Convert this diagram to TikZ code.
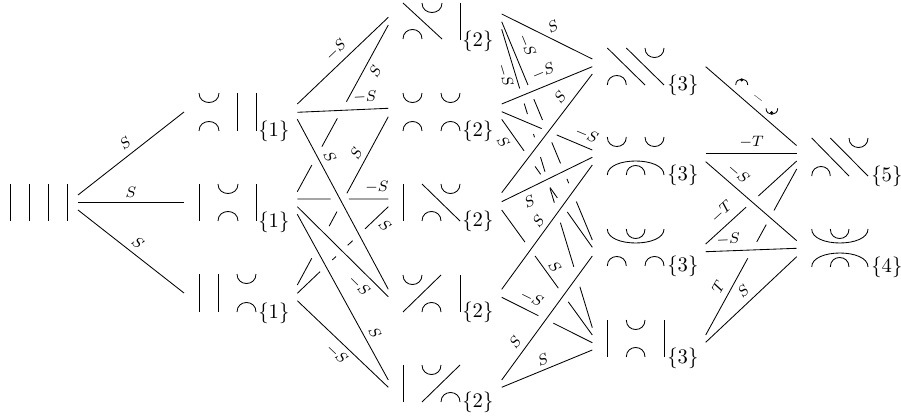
\documentclass[tikz,border=0pt]{standalone}
\usetikzlibrary{calc}
\tikzset{
  edge/.style={line width=0.45pt,black},
  strand/.style={line width=0.45pt,black},
  elab/.style={inner sep=0pt,font=\fontsize{8.2}{10}\selectfont},
  tag/.style={inner sep=0pt,anchor=west,font=\fontsize{10.5}{12}\selectfont}
}
% connector between two named coordinates
\newcommand{\conn}[3]{\coordinate (#1s) at (#2); \coordinate (#1t) at (#3); \draw[edge] (#1s) -- (#1t);}
% connector broken by crossings: list of from/to fractions
\newcommand{\brk}[4]{\coordinate (#1s) at (#2); \coordinate (#1t) at (#3);
  \foreach \fa/\fb in {#4} {\draw[edge] ($(#1s)!\fa!(#1t)$) -- ($(#1s)!\fb!(#1t)$);}}
\newcommand{\lb}[4]{\node[elab,rotate=#3] (l#1) at (#2) {$#4$};}
\newcommand{\vs}[3]{\draw[strand] (#1,#2) -- (#1,#3);}
\newcommand{\ds}[4]{\draw[strand] (#1,#2) -- (#3,#4);}
% cup hanging from y, cap standing on y
\newcommand{\ucup}[4][9.5]{\draw[strand] (#2,#4) .. controls (#2,{#4+#1*1.333}) and (#3,{#4+#1*1.333}) .. (#3,#4);}
\newcommand{\ucap}[4][9.5]{\draw[strand] (#2,#4) .. controls (#2,{#4-#1*1.333}) and (#3,{#4-#1*1.333}) .. (#3,#4);}
\newcommand{\tg}[4]{\node[tag] (#1) at (#2,#3) {$\{#4\}$};}
\begin{document}
\begin{tikzpicture}[x=0.53pt,y=-0.53pt]
\useasboundingbox (0,0) rectangle (901,418);
% column 0
\vs{10}{184}{221}\vs{29}{184}{221}\vs{48}{184}{221}\vs{67}{184}{221}
% column 1
\ucup{199}{219}{93}\ucap{199}{219}{131}\vs{237}{93}{131}\vs{256}{93}{131}\tg{da}{258}{131}{1}
\vs{199}{184}{221}\ucup{218}{238}{184}\ucap{218}{238}{221}\vs{256}{184}{221}\tg{db}{258}{222}{1}
\vs{199}{274}{312}\vs{218}{274}{312}\ucup{237}{256}{274}\ucap{237}{256}{312}\tg{dc}{258}{313}{1}
% column 2
\ds{403}{3}{442}{39}\ucup{422}{442}{3}\ucap{403}{422}{39}\vs{460}{3}{40}\tg{ea}{462}{41}{2}
\ucup{403}{422}{93}\ucup{441}{460}{93}\ucap{403}{422}{131}\ucap{441}{460}{131}\tg{eb}{462}{131}{2}
\vs{403}{184}{221}\ds{422}{184}{460}{221}\ucup{441}{460}{184}\ucap{422}{441}{221}\tg{ec}{462}{221}{2}
\ucup{403}{422}{275}\ds{441}{275}{403}{312}\ucap{422}{441}{312}\vs{460}{275}{312}\tg{ed}{462}{312}{2}
\vs{403}{365}{402}\ucup{422}{441}{365}\ds{460}{365}{422}{402}\ucap{441}{460}{402}\tg{ee}{462}{402}{2}
% column 3
\ds{607.3}{48}{645}{85}\ds{626.3}{48}{664}{85}\ucup{645}{664}{48}\ucap{607.3}{626.3}{85}\tg{fa}{667}{85}{3}
\ucup{607.3}{626.3}{137}\ucup{645}{664}{137}\ucap[14]{607.3}{664}{175}\ucap{626.3}{645}{175}\tg{fb}{667}{175}{3}
\ucup[14]{607.3}{664}{229}\ucup{626.3}{645}{229}\ucap{607.3}{626.3}{266}\ucap{645}{664}{266}\tg{fc}{667}{266}{3}
\vs{607.3}{320}{357}\ucup{626.3}{645}{320}\ucap{626.3}{645}{357}\vs{664}{320}{357}\tg{fd}{667}{358}{3}
% column 4
\ds{811.7}{138}{849}{176}\ds{830.3}{138}{868}{176}\ucup{849}{868}{138}\ucap{811.7}{830.3}{176}\tg{ga}{871}{176}{5}
\ucup[14]{811.7}{868}{229}\ucup{830.3}{849}{229}\ucap[14]{811.7}{868}{267}\ucap{830.3}{849}{267}\tg{gb}{871}{267}{4}
% connectors column 0 -> 1
\conn{aa}{78,195}{184,112}\lb{aa}{125,143}{38}{S}
\conn{ab}{78,202}{184,202}\lb{ab}{131,192}{0}{S}
\conn{ac}{78,210}{184,293}\lb{ac}{138,243}{-38}{S}
% connectors column 1 -> 2
\conn{b1}{297.3,104}{388.3,17.3}\lb{b1}{336,50}{43.6}{-S}
\brk{b2}{297.3,191.7}{388.3,25}{0/.16,.27/.44,.54/1}\lb{b2}{375,71}{61.4}{S}
\conn{b3}{297.3,112.3}{388.3,108.3}\lb{b3}{365,96.7}{2.5}{-S}
\conn{b4}{297.3,119.3}{388.3,289.3}\lb{b4}{330,157}{-61.8}{S}
\brk{b5}{297.3,285}{388.3,116.7}{0/.159,.35/.436,.545/1}\lb{b5}{356,153}{61.6}{S}
\brk{b6}{297.3,199}{388.3,199}{0/.367,.568/1}\lb{b6}{377,187}{0}{-S}
\conn{b7}{297.3,206.7}{388.3,296.7}\lb{b7}{359,286}{-44.7}{-S}
\conn{b8}{297.3,214.3}{388.3,380}\lb{b8}{375,333}{-61.2}{S}
\brk{b9}{297.3,293.3}{388.3,206.7}{0/.25,.385/.425,.554/.607,.744/1}\lb{b9}{385,225}{-43.6}{S}
\conn{b10}{297.3,300.7}{388.3,387.3}\lb{b10}{336.7,354}{-43.6}{-S}
% connectors column 2 -> 3
\conn{ca}{501.7,14}{592.3,59}\lb{ca}{552.7,26.7}{26.4}{S}
\brk{cb}{501.7,21.7}{592.3,240}{0/.29,.355/.45,.553/.649,.72/.74,.824/1}\lb{cb}{526.7,45}{-67.5}{-S}
\brk{cc}{501.7,29.3}{592.3,327.7}{0/.198,.249/.284,.351/.362,.428/.477,.533/.581,.648/.796,.863/1}\lb{cc}{505,75}{-73.1}{-S}
\conn{cd}{501.7,104}{592.3,66.7}\lb{cd}{543.3,72.3}{22.4}{-S}
\brk{ce}{501.7,111.7}{592.3,150}{0/.441,.607/1}\lb{ce}{586.7,135}{-22.9}{-S}
\brk{cf}{501.7,119.3}{592.3,247.3}{0/.246,.368/.43,.533/.614,.724/1}\lb{cf}{503.3,141.7}{-54.7}{S}
\conn{cg}{501.7,192.7}{592.3,74}\lb{cg}{560,96.7}{52.6}{S}
\conn{ch}{501.7,201.7}{592.3,157.3}\lb{ch}{529.3,201.7}{26.1}{S}
\conn{ci}{501.7,289.3}{592.3,165}\lb{ci}{538.3,220.7}{53.9}{S}
\brk{cj}{501.7,297.3}{592.3,342.7}{0/.404,.57/1}\lb{cj}{531.7,298.3}{-26.6}{-S}
\brk{ck}{501.7,210}{592.3,335}{0/.257,.368/.625,.735/1}\lb{ck}{555,266.7}{-54.1}{S}
\conn{cl}{501.7,380}{592.3,256}\lb{cl}{515,341.7}{53.8}{S}
\conn{cm}{501.7,387.3}{592.3,350}\lb{cm}{542.7,359.3}{22.4}{S}
% connectors column 3 -> 4
\conn{dn}{705.7,66.7}{796.5,145.5}
\draw[strand] (735.7,85) .. controls (735.7,77) and (747.7,77) .. (747.7,85);
\fill (741.7,80) circle[radius=1.7];
\draw[line width=0.3pt,black!60] (754.3,95) -- (761.7,100.7);
\draw[strand] (766,108.3) .. controls (766,116.3) and (777.7,116.3) .. (777.7,108.3);
\fill (771.7,112.7) circle[radius=1.7];
\conn{do}{705.7,153.3}{796.7,153.3}\lb{do}{751.7,141.7}{0}{-T}
\conn{dp}{705.7,161.7}{796.7,240.7}\lb{dp}{738.3,173.3}{-41}{-S}
\brk{dq}{705.7,244}{796.7,161}{0/.443,.578/1}\lb{dq}{721.7,211.7}{42.4}{-T}
\brk{dr}{705.7,335}{796.7,169}{0/.462,.561/.665,.75/1}\lb{dr}{718.3,287.3}{61.3}{T}
\conn{ds}{705.7,251.7}{796.7,248.3}\lb{ds}{728.3,239.3}{2}{-S}
\conn{dt}{705.7,342.3}{796.7,256.7}\lb{dt}{743.3,290.7}{43.3}{S}
\end{tikzpicture}
\end{document}
